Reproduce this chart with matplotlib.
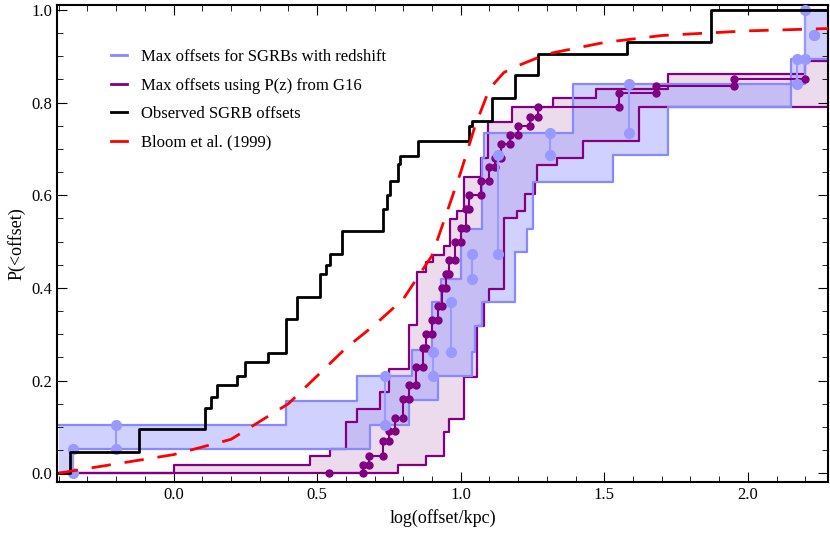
import matplotlib
matplotlib.use("Agg")
import matplotlib.pyplot as plt
import numpy as np
from matplotlib.ticker import MultipleLocator
from matplotlib.lines import Line2D

plt.rcParams["font.family"] = "Liberation Serif"

# Observed SGRB offsets (step curve)
obs_x = [-0.40, -0.36, -0.12, 0.11, 0.13, 0.15, 0.22, 0.25, 0.33, 0.39, 0.43, 0.51, 0.53, 0.545, 0.585, 0.73, 0.743, 0.755, 0.78, 0.79, 0.85, 1.03, 1.04, 1.11, 1.19, 1.27, 1.58, 1.87, 2.28]
obs_y = [0.0, 0.045, 0.095, 0.14, 0.165, 0.19, 0.21, 0.24, 0.26, 0.333, 0.38, 0.43, 0.45, 0.473, 0.522, 0.57, 0.60, 0.63, 0.667, 0.685, 0.717, 0.75, 0.76, 0.81, 0.86, 0.905, 0.93, 1.0, 1.0]

# Bloom et al. (1999)
bloom_x = [-0.40, -0.2, 0.0, 0.2, 0.4, 0.5, 0.6, 0.7, 0.8, 0.9, 1.0, 1.05, 1.1, 1.15, 1.2, 1.3, 1.5, 1.7, 2.0, 2.28]
bloom_y = [0.0, 0.02, 0.04, 0.073, 0.15, 0.21, 0.27, 0.32, 0.376, 0.47, 0.65, 0.75, 0.83, 0.865, 0.88, 0.905, 0.93, 0.945, 0.955, 0.96]

# Blue band (SGRBs with redshift)
blue_up_x = [-0.40, 0.39, 0.64, 0.83, 0.90, 0.93, 1.00, 1.075, 1.08, 1.39, 2.15, 2.20, 2.28]
blue_up_y = [0.105, 0.155, 0.21, 0.265, 0.37, 0.42, 0.527, 0.68, 0.735, 0.84, 0.895, 1.0, 1.0]
blue_lo_x = [-0.40, -0.35, 0.684, 0.82, 0.92, 0.95, 1.039, 1.05, 1.074, 1.19, 1.23, 1.253, 1.53, 1.72, 2.15, 2.20, 2.28]
blue_lo_y = [0.0, 0.053, 0.105, 0.157, 0.21, 0.21, 0.262, 0.318, 0.369, 0.477, 0.527, 0.628, 0.686, 0.79, 0.84, 0.895, 0.895]
blue_pts_x = [-0.35, -0.2, 0.736, 0.905, 0.966, 1.04, 1.13, 1.31, 1.585, 2.17, 2.20, 2.23]
blue_pts_lo = [0.0, 0.053, 0.105, 0.21, 0.262, 0.42, 0.474, 0.686, 0.735, 0.84, 0.895, 0.947]
blue_pts_hi = [0.053, 0.105, 0.21, 0.262, 0.369, 0.474, 0.686, 0.735, 0.84, 0.895, 1.0, 0.947]

# Purple band (P(z) from G16)
pur_up_x = [-0.40, 0.0, 0.475, 0.544, 0.60, 0.64, 0.72, 0.75, 0.82, 0.847, 0.88, 0.905, 0.94, 0.963, 0.986, 1.01, 1.07, 1.095, 1.18, 1.32, 1.47, 1.72, 2.2, 2.28]
pur_up_y = [0.0, 0.017, 0.037, 0.052, 0.11, 0.138, 0.175, 0.225, 0.32, 0.434, 0.456, 0.47, 0.49, 0.548, 0.567, 0.64, 0.68, 0.758, 0.79, 0.81, 0.83, 0.862, 0.89, 0.89]
pur_lo_x = [-0.40, 0.78, 0.88, 0.94, 0.96, 1.01, 1.056, 1.08, 1.10, 1.15, 1.196, 1.225, 1.26, 1.266, 1.336, 1.424, 1.62, 2.28]
pur_lo_y = [0.0, 0.017, 0.037, 0.088, 0.117, 0.207, 0.318, 0.37, 0.397, 0.55, 0.567, 0.603, 0.628, 0.665, 0.68, 0.717, 0.79, 0.79]
med_x = [0.54, 0.66, 0.68, 0.73, 0.75, 0.77, 0.80, 0.82, 0.845, 0.87, 0.88, 0.90, 0.92, 0.935, 0.95, 0.96, 0.98, 1.0, 1.02, 1.03, 1.07, 1.10, 1.12, 1.14, 1.17, 1.2, 1.24, 1.27, 1.55, 1.68, 1.95, 2.2]
med_y = [0.0, 0.017, 0.037, 0.07, 0.09, 0.12, 0.16, 0.19, 0.23, 0.27, 0.30, 0.33, 0.36, 0.40, 0.43, 0.46, 0.50, 0.53, 0.57, 0.60, 0.63, 0.66, 0.68, 0.71, 0.73, 0.75, 0.77, 0.79, 0.82, 0.835, 0.85, 0.87]

fig, ax = plt.subplots(figsize=(8.3, 5.39), dpi=100)
fig.subplots_adjust(left=0.069, right=0.998, bottom=0.105, top=0.99)

def band(xu, yu, xl, yl, fc, ec, lw, alpha):
    grid = np.unique(np.concatenate([xu, xl]))
    yu_g = np.array(yu)[np.searchsorted(xu, grid, side="right") - 1]
    yl_g = np.array(yl)[np.searchsorted(xl, grid, side="right") - 1]
    ax.fill_between(grid, yl_g, yu_g, step="post", color=fc, alpha=alpha, lw=0)
    ax.step(xu, yu, where="post", color=ec, lw=lw)
    ax.step(xl, yl, where="post", color=ec, lw=lw)

band(pur_up_x, pur_up_y, pur_lo_x, pur_lo_y, "#c999c9", "#800080", 1.6, 0.35)
band(blue_up_x, blue_up_y, blue_lo_x, blue_lo_y, "#9999ff", "#8888ff", 1.6, 0.45)

sx, sy = [], []
for i in range(len(med_x) - 1):
    sx += [med_x[i], med_x[i + 1]]
    sy += [med_y[i], med_y[i]]
ax.plot(sx, sy, color="#800080", lw=1.5, marker="o", ms=5, zorder=4)

for x, lo, hi in zip(blue_pts_x, blue_pts_lo, blue_pts_hi):
    ax.plot([x, x], [lo, hi], color="#9999ff", lw=1.5, marker="o", ms=7, zorder=5)

ax.step(obs_x, obs_y, where="post", color="black", lw=2, zorder=6)
ax.plot(bloom_x, bloom_y, color="red", lw=2, dashes=(7, 5), zorder=6)

handles = [Line2D([], [], color="#8888ff", lw=2), Line2D([], [], color="#800080", lw=2),
           Line2D([], [], color="black", lw=2), Line2D([], [], color="red", lw=2)]
labels = ["Max offsets for SGRBs with redshift", "Max offsets using P(z) from G16",
          "Observed SGRB offsets", "Bloom et al. (1999)"]
ax.legend(handles, labels, loc="upper left", bbox_to_anchor=(0.05, 0.94), frameon=False,
          fontsize=12, handlelength=1.0, labelspacing=0.75)

ax.set_xlim(-0.405, 2.28)
ax.set_ylim(-0.02, 1.01)
ax.xaxis.set_major_locator(MultipleLocator(0.5))
ax.xaxis.set_minor_locator(MultipleLocator(0.1))
ax.yaxis.set_major_locator(MultipleLocator(0.2))
ax.yaxis.set_minor_locator(MultipleLocator(0.05))
ax.tick_params(which="both", direction="in", top=True, right=True, labelsize=12)
ax.tick_params(which="major", length=7)
ax.tick_params(which="minor", length=4)
for s in ax.spines.values():
    s.set_linewidth(1.5)
ax.set_xlabel("log(offset/kpc)", fontsize=13)
ax.set_ylabel("P(<offset)", fontsize=13)
fig.savefig("out.png", dpi=100)
